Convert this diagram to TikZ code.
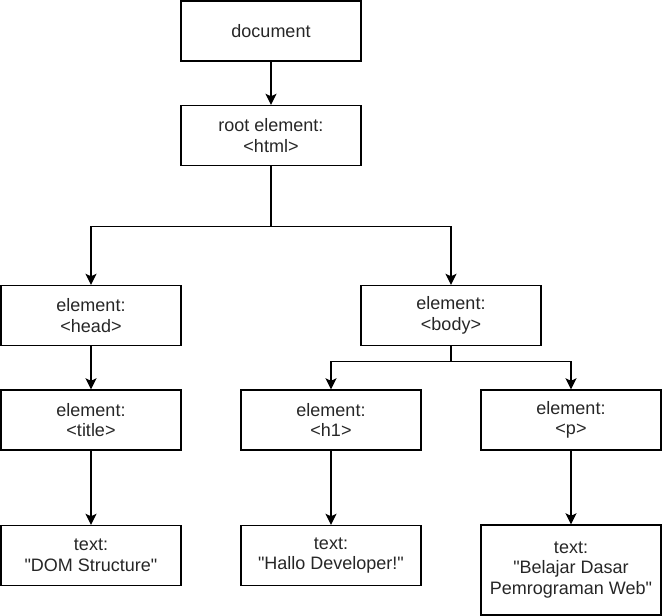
\documentclass[tikz,border=0pt]{standalone}
\usepackage{fontspec}
\setmainfont{Liberation Sans}
\usetikzlibrary{arrows.meta}
\newcommand{\qq}{\textquotedbl}
\begin{document}
\begin{tikzpicture}[x=1pt,y=-1pt,
  box/.style={draw=black, line width=1.4pt, minimum width=180pt, minimum height=60pt, inner sep=0pt, align=center, font=\fontsize{18}{20.5}\selectfont, text=black!85},
  arr/.style={line width=1.4pt, -{Stealth[length=11pt,width=11pt,inset=2.5pt]}}]
\useasboundingbox (0,0) rectangle (662,616);
\node[box] (doc) at (271,31) {document};
\node[box] (root) at (271,135.5) {root element:\\<html>};
\node[box] (head) at (91,315.5) {element:\\<head>};
\node[box] (body) at (451,315.5) {element:\\<body>};
\node[box] (title) at (91,420) {element:\\<title>};
\node[box] (h1) at (331,420) {element:\\<h1>};
\node[box] (p) at (571,420) {element:\\<p>};
\node[box] (t1) at (91,555.5) {text:\\\qq DOM Structure\qq};
\node[box] (t2) at (331,555.5) {text:\\\qq Hallo Developer!\qq};
\node[box, minimum height=90pt] (t3) at (571,570) {text:\\\qq Belajar Dasar\\Pemrograman Web\qq};
\draw[arr] (doc) -- (root);
\draw[arr] (root.south) -- ++(0,60) -| (head.north);
\draw[arr] (root.south) -- ++(0,60) -| (body.north);
\draw[arr] (head) -- (title);
\draw[arr] (body.south) -- ++(0,15) -| (h1.north);
\draw[arr] (body.south) -- ++(0,15) -| (p.north);
\draw[arr] (title) -- (t1);
\draw[arr] (h1) -- (t2);
\draw[arr] (p) -- (t3);
\end{tikzpicture}
\end{document}
